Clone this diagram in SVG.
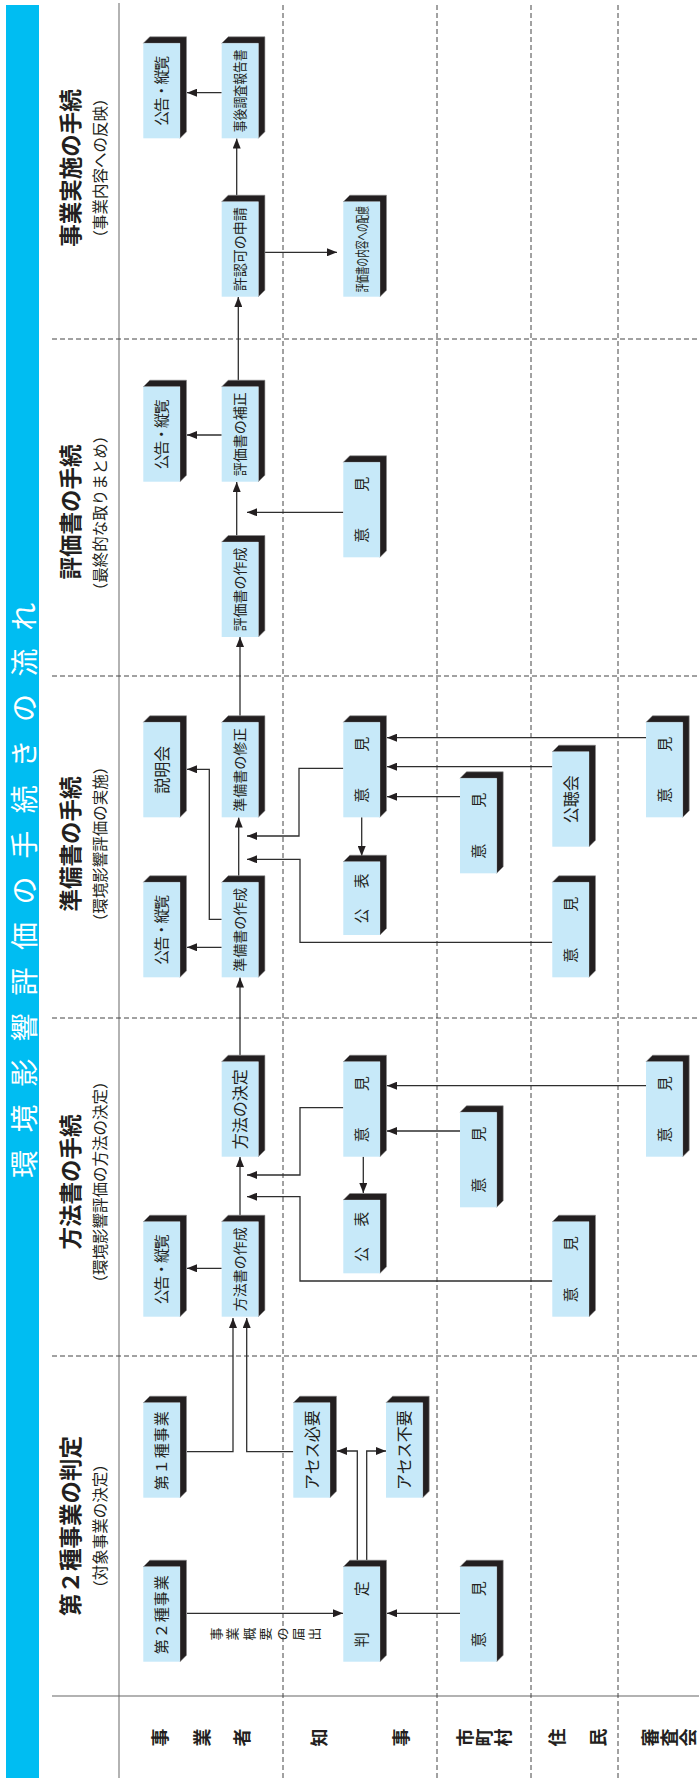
<svg xmlns="http://www.w3.org/2000/svg" xmlns:xlink="http://www.w3.org/1999/xlink" width="699" height="1778" viewBox="0 0 699 1778">
<defs>
<style>
.t{font-family:'Liberation Sans','Noto Sans CJK JP',sans-serif;fill:#231f20;text-anchor:middle}
.f13{font-size:13px}.f14{font-size:14px}.f15{font-size:15px}.f16{font-size:16px}
.ttl{font-size:22.5px;font-weight:bold}
.sub{font-size:15.5px}
.lane{font-size:18px;font-weight:bold}
.big{font-family:'Liberation Sans','Noto Sans CJK JP',sans-serif;font-size:28px;fill:#ffffff;text-anchor:middle}
.conn{fill:none;stroke:#2e2e2e;stroke-width:1.3}
.arr{marker-end:url(#ah)}
.dash{fill:none;stroke:#444;stroke-width:1;stroke-dasharray:5 3}
.face{fill:#c7e9f9}
.side{fill:#231f20;stroke:#8a8a8a;stroke-width:0.6}
</style>
<marker id="ah" markerUnits="userSpaceOnUse" markerWidth="10" markerHeight="8" refX="10" refY="4" orient="auto">
<path d="M0,0 L10,4 L0,8 z" fill="#231f20"/>
</marker>
<g id="box">
<polygon class="side" points="95,0 101.5,6.5 101.5,43.2 6.5,43.2 0,36.7 95,36.7"/>
<rect class="face" x="0" y="0" width="95" height="36.7"/>
</g>
<g id="boxS">
<polygon class="side" points="73.3,0 79.8,6.5 79.8,43.2 6.5,43.2 0,36.7 73.3,36.7"/>
<rect class="face" x="0" y="0" width="73.3" height="36.7"/>
</g>
</defs>
<rect x="0" y="0" width="699" height="1778" fill="#ffffff"/>
<g transform="matrix(0,-1,1,0,0,1778)">
<g id="frame">
<rect x="0" y="6" width="1773" height="33" fill="#00bdf2"/>
<text class="big" x="614 659.6 705.2 750.8 796.4 842 887.6 933.2 978.8 1024.4 1070 1115.6 1161.2" y="34.5">環境影響評価の手続きの流れ</text>
<path d="M0,119 H1775" stroke="#8a8a8a" stroke-width="1.3" fill="none"/>
<path d="M82,52 V699" stroke="#666" stroke-width="1.1" fill="none"/>
<path class="dash" d="M0,283 H1773 M0,437 H1773 M0,531 H1773 M0,618 H1773"/>
<path class="dash" d="M422,52 V699 M760,52 V699 M1102,52 V699 M1439,52 V699"/>
</g>
<g id="headers">
<text class="t ttl" x="252" y="78.5">第２種事業の判定</text>
<text class="t sub" x="252" y="105.7">（対象事業の決定）</text>
<text class="t ttl" x="596" y="78.5">方法書の手続</text>
<text class="t sub" x="596" y="105.7">（環境影響評価の方法の決定）</text>
<text class="t ttl" x="934" y="78.5">準備書の手続</text>
<text class="t sub" x="934" y="105.7">（環境影響評価の実施）</text>
<text class="t ttl" x="1266" y="78.5">評価書の手続</text>
<text class="t sub" x="1265" y="105.7">（最終的な取りまとめ）</text>
<text class="t ttl" x="1610" y="78.5">事業実施の手続</text>
<text class="t sub" x="1610" y="105.7">（事業内容への反映）</text>
</g>
<g id="lanes">
<text class="t lane"><tspan x="40.5" y="166.7">事</tspan><tspan x="40.5" y="208.7">業</tspan><tspan x="40.5" y="249.2">者</tspan></text>
<text class="t lane"><tspan x="40.5" y="325.7">知</tspan><tspan x="40.5" y="407.7">事</tspan></text>
<text class="t lane"><tspan x="40.5" y="471.7">市</tspan><tspan x="40.5" y="490.7">町</tspan><tspan x="40.5" y="509.7">村</tspan></text>
<text class="t lane"><tspan x="40.5" y="563.7">住</tspan><tspan x="40.5" y="604.7">民</tspan></text>
<text class="t lane"><tspan x="40.5" y="656.7">審</tspan><tspan x="40.5" y="675.7">査</tspan><tspan x="40.5" y="694.7">会</tspan></text>
</g>
<g id="connectors">
<path class="conn arr" d="M164.7,187 V343"/>
<text class="t f13"><tspan x="144" y="221">事</tspan><tspan x="144" y="237.4">業</tspan><tspan x="144" y="253.8">概</tspan><tspan x="144" y="270.2">要</tspan><tspan x="144" y="286.6">の</tspan><tspan x="144" y="303">届</tspan><tspan x="144" y="319.4">出</tspan></text>
<path class="conn arr" d="M164.7,460 V387"/>
<path class="conn arr" d="M218,357.3 H327 V337"/>
<path class="conn arr" d="M218,366.7 H327 V386"/>
<path class="conn arr" d="M326.3,187 V233 H460"/>
<path class="conn arr" d="M326.3,293.3 V246.7 H460"/>
<path class="conn arr" d="M509.7,221.7 V187"/>
<path class="conn arr" d="M562.8,240 H621"/>
<path class="conn arr" d="M722.8,240 H800.5"/>
<path class="conn arr" d="M670.3,343.3 V300 H603 V247"/>
<path class="conn arr" d="M497,552.3 V300 H581.3 V247"/>
<path class="conn arr" d="M621.3,363.3 H585"/>
<path class="conn arr" d="M647,460 V387"/>
<path class="conn arr" d="M692.3,646 V387"/>
<path class="conn arr" d="M830.7,221.7 V187"/>
<path class="conn arr" d="M858.7,221.7 V209.3 H1008.7 V187"/>
<path class="conn arr" d="M902.2,238.7 H960.5"/>
<path class="conn arr" d="M1062.2,240 H1141"/>
<path class="conn arr" d="M1009.7,343.3 V299 H942 V247"/>
<path class="conn arr" d="M835.7,552.3 V300 H918.7 V247"/>
<path class="conn arr" d="M960.7,361.7 H922"/>
<path class="conn arr" d="M981.3,460 V387"/>
<path class="conn arr" d="M1011.3,552.3 V387"/>
<path class="conn arr" d="M1040.3,646 V387"/>
<path class="conn arr" d="M1343,221.7 V187"/>
<path class="conn arr" d="M1242.5,236.7 H1296"/>
<path class="conn arr" d="M1265.7,343.3 V247"/>
<path class="conn arr" d="M1397.8,238.3 H1481"/>
<path class="conn arr" d="M1582.8,236.7 H1639.5"/>
<path class="conn arr" d="M1685.3,221.7 V187"/>
<path class="conn arr" d="M1525.7,265 V337"/>
</g>
<g id="n01" transform="translate(116.3,143.3)"><use href="#box"/><text class="t f15" x="47.5" y="24" letter-spacing="1">第２種事業</text></g>
<g id="n02" transform="translate(280.3,143.3)"><use href="#box"/><text class="t f15" x="47.5" y="24" letter-spacing="1">第１種事業</text></g>
<g id="n03" transform="translate(280.3,293.3)"><use href="#box"/><text class="t f16" x="47.5" y="24.4">アセス必要</text></g>
<g id="n04" transform="translate(116.3,343.3)"><use href="#box"/><text class="t f15"><tspan x="22" y="24">判</tspan><tspan x="73" y="24">定</tspan></text></g>
<g id="n05" transform="translate(280.3,386)"><use href="#box"/><text class="t f16" x="47.5" y="24.4">アセス不要</text></g>
<g id="n06" transform="translate(116.3,460)"><use href="#box"/><text class="t f15"><tspan x="22" y="24">意</tspan><tspan x="73" y="24">見</tspan></text></g>
<g id="n07" transform="translate(461.3,143.3)"><use href="#box"/><text class="t f15" x="47.5" y="24" textLength="70" lengthAdjust="spacing">公告・縦覧</text></g>
<g id="n08" transform="translate(461.3,221.7)"><use href="#box"/><text class="t f14" x="47.5" y="23.7">方法書の作成</text></g>
<g id="n09" transform="translate(621.3,221.7)"><use href="#box"/><text class="t f16" x="47.5" y="24.4">方法の決定</text></g>
<g id="n10" transform="translate(621.3,343.3)"><use href="#box"/><text class="t f15"><tspan x="22" y="24">意</tspan><tspan x="73" y="24">見</tspan></text></g>
<g id="n11" transform="translate(504.7,343.3)"><use href="#boxS"/><text class="t f15"><tspan x="19" y="24">公</tspan><tspan x="54" y="24">表</tspan></text></g>
<g id="n12" transform="translate(570.7,460)"><use href="#box"/><text class="t f15"><tspan x="22" y="24">意</tspan><tspan x="73" y="24">見</tspan></text></g>
<g id="n13" transform="translate(621.3,646)"><use href="#box"/><text class="t f15"><tspan x="22" y="24">意</tspan><tspan x="73" y="24">見</tspan></text></g>
<g id="n14" transform="translate(461.3,552.3)"><use href="#box"/><text class="t f15"><tspan x="22" y="24">意</tspan><tspan x="73" y="24">見</tspan></text></g>
<g id="n15" transform="translate(800.7,143.3)"><use href="#box"/><text class="t f15" x="47.5" y="24" textLength="70" lengthAdjust="spacing">公告・縦覧</text></g>
<g id="n16" transform="translate(800.7,221.7)"><use href="#box"/><text class="t f14" x="47.5" y="23.7">準備書の作成</text></g>
<g id="n17" transform="translate(960.7,143.3)"><use href="#box"/><text class="t f16" x="47.5" y="24.4">説明会</text></g>
<g id="n18" transform="translate(960.7,221.7)"><use href="#box"/><text class="t f14" x="47.5" y="23.7">準備書の修正</text></g>
<g id="n19" transform="translate(960.7,343.3)"><use href="#box"/><text class="t f15"><tspan x="22" y="24">意</tspan><tspan x="73" y="24">見</tspan></text></g>
<g id="n20" transform="translate(843,343.3)"><use href="#boxS"/><text class="t f15"><tspan x="19" y="24">公</tspan><tspan x="54" y="24">表</tspan></text></g>
<g id="n21" transform="translate(904.7,460)"><use href="#box"/><text class="t f15"><tspan x="22" y="24">意</tspan><tspan x="73" y="24">見</tspan></text></g>
<g id="n22" transform="translate(931.3,552.3)"><use href="#box"/><text class="t f16" x="47.5" y="24.4">公聴会</text></g>
<g id="n23" transform="translate(800.7,552.3)"><use href="#box"/><text class="t f15"><tspan x="22" y="24">意</tspan><tspan x="73" y="24">見</tspan></text></g>
<g id="n24" transform="translate(960.7,646)"><use href="#box"/><text class="t f15"><tspan x="22" y="24">意</tspan><tspan x="73" y="24">見</tspan></text></g>
<g id="n25" transform="translate(1141,221.7)"><use href="#box"/><text class="t f14" x="47.5" y="23.7">評価書の作成</text></g>
<g id="n26" transform="translate(1296.3,221.7)"><use href="#box"/><text class="t f14" x="47.5" y="23.7">評価書の補正</text></g>
<g id="n27" transform="translate(1296.3,143.3)"><use href="#box"/><text class="t f15" x="47.5" y="24" textLength="70" lengthAdjust="spacing">公告・縦覧</text></g>
<g id="n28" transform="translate(1220.7,343.3)"><use href="#box"/><text class="t f15"><tspan x="22" y="24">意</tspan><tspan x="73" y="24">見</tspan></text></g>
<g id="n29" transform="translate(1639.7,143.3)"><use href="#box"/><text class="t f15" x="47.5" y="24" textLength="70" lengthAdjust="spacing">公告・縦覧</text></g>
<g id="n30" transform="translate(1639.7,221.7)"><use href="#box"/><text class="t f14" x="47.5" y="23.7" textLength="83" lengthAdjust="spacingAndGlyphs">事後調査報告書</text></g>
<g id="n31" transform="translate(1481.3,221.7)"><use href="#box"/><text class="t f14" x="47.5" y="23.7">許認可の申請</text></g>
<g id="n32" transform="translate(1481.3,343.3)"><use href="#box"/><text class="t f14" x="47.5" y="23.7" textLength="86" lengthAdjust="spacingAndGlyphs">評価書の内容への配慮</text></g>
</g>
</svg>
